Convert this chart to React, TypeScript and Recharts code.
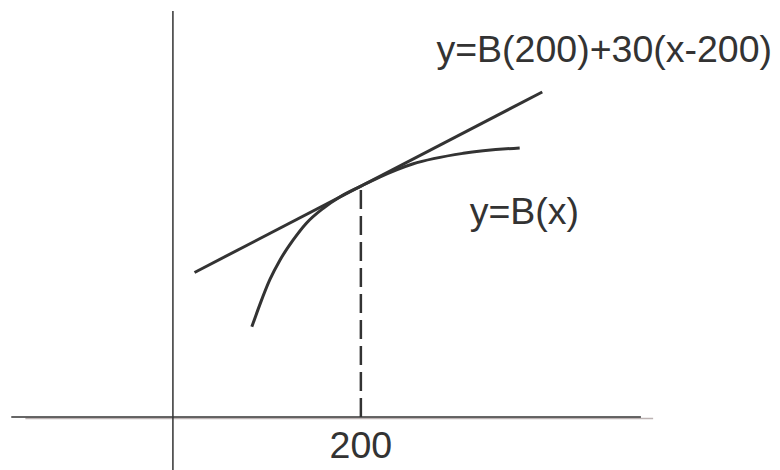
import { LineChart, Line, XAxis, YAxis, ReferenceLine, ReferenceDot } from "recharts";

// B(x)
const curveX = [84, 93, 103, 114, 128, 142, 160, 178, 200, 220, 255, 309, 369];
const curveB = [5550, 6990, 8430, 9660, 10890, 11920, 12840, 13550, 14200, 14760, 15560, 16220, 16550];

// tangent at x = 200, slope 30
const tangentX = [23, 393];
const tangentY = [8890, 19990];

const POINT_X = 200;
const POINT_B = 14200;
const xTicks = [200];

const curveLabel = "y=B(x)";
const tangentLabel = "y=B(200)+30(x-200)";

const curve = curveX.map((x, i) => ({ x, y: curveB[i] }));
const tangent = tangentX.map((x, i) => ({ x, y: tangentY[i] }));

const INK = "#333333";
const FONT = 37.5;

export default function App() {
  return (
    <div
      style={{
        position: "absolute",
        left: 0,
        top: 0,
        width: 780,
        height: 470,
        background: "#fff",
        fontFamily: "'Liberation Sans', Arial, sans-serif",
      }}
    >
      <LineChart width={780} height={470} margin={{ top: 0, right: 0, bottom: 0, left: 0 }}>
        <XAxis
          type="number"
          dataKey="x"
          domain={[-184, 646]}
          ticks={xTicks}
          height={53}
          axisLine={false}
          tickLine={false}
          tickSize={0}
          tickMargin={14}
          tick={{ fontSize: FONT, fill: INK }}
          allowDataOverflow
        />
        <YAxis type="number" dataKey="y" domain={[0, 25650]} hide allowDataOverflow />

        {/* hand-drawn axes */}
        <ReferenceLine
          segment={[{ x: -157, y: -92 }, { x: 511, y: -92 }]}
          stroke="#bdb3b3"
          strokeWidth={1.5}
          ifOverflow="visible"
        />
        <ReferenceLine
          segment={[{ x: -172, y: 0 }, { x: 498, y: 0 }]}
          stroke={INK}
          strokeWidth={1.5}
          ifOverflow="visible"
        />
        <ReferenceLine
          segment={[{ x: 0, y: -3260 }, { x: 0, y: 24970 }]}
          stroke={INK}
          strokeWidth={1.5}
          ifOverflow="visible"
        />
        <ReferenceLine
          segment={[{ x: POINT_X, y: 0 }, { x: POINT_X, y: POINT_B }]}
          stroke={INK}
          strokeWidth={2.5}
          strokeDasharray="19 7"
          ifOverflow="visible"
        />

        <Line
          data={tangent}
          dataKey="y"
          type="linear"
          stroke={INK}
          strokeWidth={3}
          dot={false}
          activeDot={false}
          isAnimationActive={false}
        />
        <Line
          data={curve}
          dataKey="y"
          type="monotone"
          stroke={INK}
          strokeWidth={3}
          dot={false}
          activeDot={false}
          isAnimationActive={false}
        />

        <ReferenceDot
          x={459}
          y={22640}
          r={0}
          fill="none"
          stroke="none"
          ifOverflow="visible"
          label={{ value: tangentLabel, position: "center", fontSize: FONT, fill: INK }}
        />
        <ReferenceDot
          x={374}
          y={12670}
          r={0}
          fill="none"
          stroke="none"
          ifOverflow="visible"
          label={{ value: curveLabel, position: "center", fontSize: FONT, fill: INK }}
        />
      </LineChart>
    </div>
  );
}
